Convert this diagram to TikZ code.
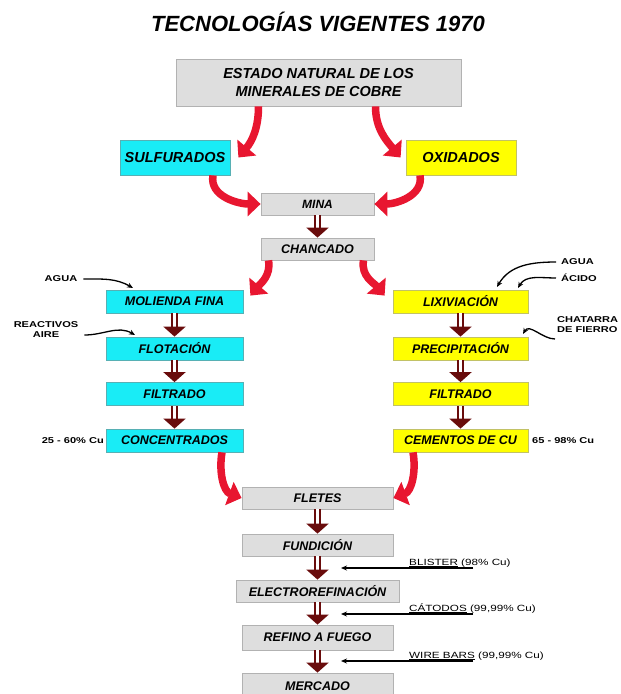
\documentclass[tikz,border=0pt]{standalone}
\usepackage{fontspec}
\setmainfont{Liberation Sans}
\usetikzlibrary{arrows.meta}
\definecolor{boxgray}{RGB}{222,222,222}
\definecolor{boxcyan}{RGB}{25,236,246}
\definecolor{boxyel}{RGB}{255,255,0}
\definecolor{arrred}{RGB}{232,22,48}
\definecolor{dblred}{RGB}{105,12,12}
\begin{document}
\begin{tikzpicture}[x=1pt,y=-1pt,
  bx/.style={draw=black!30, line width=0.8pt, inner sep=0pt, align=center,
    font=\fontsize{12.5}{14}\selectfont\bfseries\itshape},
  graybox/.style={bx, fill=boxgray},
  cyanbox/.style={bx, fill=boxcyan, draw=boxcyan!60!black!70},
  yelbox/.style={bx, fill=boxyel, draw=boxyel!60!black!60},
  colbox/.style={minimum width=137pt, minimum height=23pt},
  botbox/.style={graybox, minimum width=151pt, minimum height=22pt},
  redarr/.style={draw=arrred, line width=7.5pt, -{Triangle[width=24pt,length=13pt]}},
  dbl/.style={draw=dblred, line width=2.2pt, double=white, double distance=3pt,
    -{Triangle[width=22pt,length=10pt]}},
  lblarr/.style={draw=black, line width=1.3pt, -{Stealth[length=6pt,width=5pt]}},
  lbl/.style={inner sep=0pt, font=\fontsize{8.5}{10}\selectfont\bfseries\addfontfeature{FakeStretch=1.3}},
  lblb/.style={inner sep=0pt, font=\fontsize{9}{10}\selectfont\addfontfeature{FakeStretch=1.3}}
]
\useasboundingbox[fill=white] (0,0) rectangle (621,694);

% title
\node[font=\fontsize{22}{26}\selectfont\bfseries\itshape] (title) at (318,22) {TECNOLOGÍAS VIGENTES 1970};

% top part
\node[graybox, minimum width=285pt, minimum height=47pt, font=\fontsize{14.5}{18}\selectfont\bfseries\itshape]
  (estado) at (318.5,82.5) {ESTADO NATURAL DE LOS\\MINERALES DE COBRE};
\node[cyanbox, minimum width=110pt, minimum height=35pt, font=\fontsize{14.5}{16}\selectfont\bfseries\itshape]
  (sulf) at (175,157.5) {SULFURADOS};
\node[yelbox, minimum width=110pt, minimum height=35pt, font=\fontsize{14.5}{16}\selectfont\bfseries\itshape]
  (oxid) at (461,157.5) {OXIDADOS};
\node[graybox, minimum width=113pt, minimum height=22pt, font=\fontsize{12}{13}\selectfont\bfseries\itshape]
  (mina) at (317.5,204) {MINA};
\node[graybox, minimum width=113pt, minimum height=22pt]
  (chanc) at (317.5,249) {CHANCADO};

% left column
\node[cyanbox, colbox] (mol) at (174.5,301.5) {MOLIENDA FINA};
\node[cyanbox, colbox] (flot) at (174.5,348.5) {FLOTACIÓN};
\node[cyanbox, colbox] (filtl) at (174.5,394) {FILTRADO};
\node[cyanbox, colbox] (conc) at (174.5,440.5) {CONCENTRADOS};

% right column
\node[yelbox, colbox, minimum width=135pt] (lix) at (460.5,301.5) {LIXIVIACIÓN};
\node[yelbox, colbox, minimum width=135pt] (prec) at (460.5,348.5) {PRECIPITACIÓN};
\node[yelbox, colbox, minimum width=135pt] (filtr) at (460.5,394) {FILTRADO};
\node[yelbox, colbox, minimum width=135pt] (cem) at (460.5,440.5) {CEMENTOS DE CU};

% bottom column
\node[botbox] (flet) at (317.5,498) {FLETES};
\node[botbox] (fund) at (317.5,545) {FUNDICIÓN};
\node[botbox, minimum width=163pt] (elec) at (317.5,591) {ELECTROREFINACIÓN};
\node[botbox, minimum height=25pt] (ref) at (317.5,637.5) {REFINO A FUEGO};
\node[botbox, minimum height=26pt] (merc) at (317.5,686) {MERCADO};

% red curved arrows
\draw[redarr] ([xshift=-60pt]estado.south) to[out=-90,in=50] ([xshift=8pt]sulf.east);
\draw[redarr] ([xshift=57pt]estado.south) to[out=-90,in=130] ([xshift=-5pt]oxid.west);
\draw[redarr] ([xshift=38pt]sulf.south) to[out=-100,in=180] (mina.west);
\draw[redarr] ([xshift=-41pt]oxid.south) to[out=-80,in=0] (mina.east);
\draw[redarr] ([xshift=-49pt]chanc.south) to[out=-80,in=50] ([xshift=7pt,yshift=-6pt]mol.north east);
\draw[redarr] ([xshift=46pt]chanc.south) to[out=-100,in=130] ([xshift=-8pt,yshift=-6pt]lix.north west);
\draw[redarr] ([xshift=47.5pt]conc.south) to[out=-100,in=160] (flet.west);
\draw[redarr] ([xshift=-47.5pt]cem.south) to[out=-80,in=20] (flet.east);

% double arrows
\draw[dbl] (mina.south) -- (chanc.north);
\draw[dbl] (mol.south) -- (flot.north);
\draw[dbl] (flot.south) -- (filtl.north);
\draw[dbl] (filtl.south) -- (conc.north);
\draw[dbl] (lix.south) -- (prec.north);
\draw[dbl] (prec.south) -- (filtr.north);
\draw[dbl] (filtr.south) -- (cem.north);
\draw[dbl] (flet.south) -- (fund.north);
\draw[dbl] (fund.south) -- (elec.north);
\draw[dbl] (elec.south) -- (ref.north);
\draw[dbl] (ref.south) -- (merc.north);

% left inputs
\node[lbl] (agual) at (61,279) {AGUA};
\node[lbl, align=center] (react) at (46,330) {REACTIVOS\\AIRE};
\coordinate (agualt) at (133,288);
\coordinate (reactt) at (135,335);
\draw[lblarr] ([xshift=6pt]agual.east) to[out=0,in=150] (agualt);
\draw[lblarr] ([xshift=6pt,yshift=-5pt]react.east) to[out=0,in=150] (reactt);
\node[lbl, anchor=east] (pl) at (104,441) {25 - 60\% Cu};

% right inputs
\node[lbl, anchor=west] (aguar) at (561,262) {AGUA};
\node[lbl, anchor=west] (acido) at (561,278) {ÁCIDO};
\node[lbl, anchor=west, align=left] (chat) at (557,325) {CHATARRA\\DE FIERRO};
\coordinate (aguart) at (497,287);
\coordinate (acidot) at (518,288);
\coordinate (chatt) at (523,334);
\draw[lblarr] ([xshift=-5pt]aguar.west) to[out=180,in=60] (aguart);
\draw[lblarr] ([xshift=-5pt]acido.west) to[out=180,in=60] (acidot);
\draw[lblarr] ([xshift=-2pt,yshift=-14pt]chat.west) to[out=180,in=60] (chatt);
\node[lbl, anchor=west] (pr) at (532,441) {65 - 98\% Cu};

% bottom outputs
\node[lblb, anchor=base west] (blis) at (409,565) {\underline{BLISTER} (98\% Cu)};
\node[lblb, anchor=base west] (cat) at (409,611) {\underline{CÁTODOS} (99,99\% Cu)};
\node[lblb, anchor=base west] (wire) at (409,658) {\underline{WIRE BARS} (99,99\% Cu)};
\coordinate (blisS) at (473,568);
\coordinate (catS) at (473,614);
\coordinate (wireS) at (473,661);
\coordinate (blist) at (341,568);
\coordinate (catt) at (341,614);
\coordinate (wiret) at (341,661);
\draw[lblarr] (blisS) -- (blist);
\draw[lblarr] (catS) -- (catt);
\draw[lblarr] (wireS) -- (wiret);
\end{tikzpicture}
\end{document}
